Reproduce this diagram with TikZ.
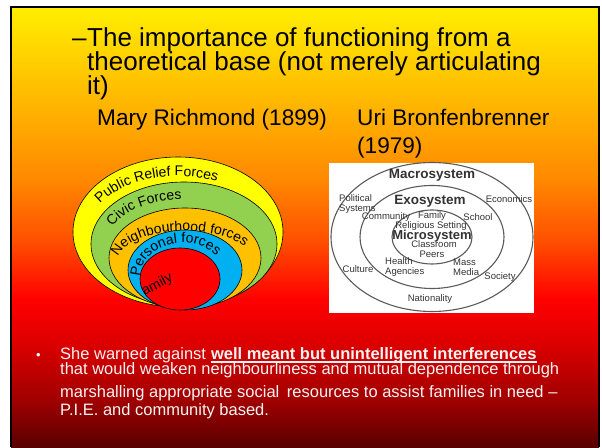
\documentclass[tikz,border=0pt]{standalone}
\usepackage{fontspec}
\setmainfont{Liberation Sans}
\usetikzlibrary{calc,decorations.text}
\definecolor{bgA}{HTML}{FFEE00}
\definecolor{bgAB}{HTML}{FFB800}
\definecolor{bgB}{HTML}{FF8800}
\definecolor{bgBC}{HTML}{FF5000}
\definecolor{bgC}{HTML}{FF0000}
\definecolor{bgD}{HTML}{E00000}
\definecolor{bgE}{HTML}{A00000}
\definecolor{bgF}{HTML}{580000}
\definecolor{ringYellow}{HTML}{FFFF00}
\definecolor{ringGreen}{HTML}{92D050}
\definecolor{ringOrange}{HTML}{FFC000}
\definecolor{ringBlue}{HTML}{00B0F0}
\definecolor{ringRed}{HTML}{FF0000}
\definecolor{orbitGray}{HTML}{5A5A5A}
\definecolor{labelGray}{HTML}{333333}
\definecolor{bodyWhite}{HTML}{F4F4F4}
\pgfdeclareverticalshading{slidebg}{100bp}{color(0bp)=(bgF); color(25bp)=(bgF); color(30.3bp)=(bgE); color(37.2bp)=(bgD); color(41.7bp)=(bgC); color(48.5bp)=(bgBC); color(55.3bp)=(bgB); color(64.4bp)=(bgAB); color(75bp)=(bgA); color(100bp)=(bgA)}
\newcommand{\ringfont}{\fontsize{14}{14}\selectfont}

\begin{document}
\begin{tikzpicture}[x=1pt,y=1pt,
  ring/.style={draw=black,line width=0.6pt},
  ringtext/.style={decorate,decoration={text along path,text align=left,text={|\ringfont|#1}}},
  headline/.style={anchor=base west,inner sep=0pt,font=\fontsize{26}{26}\selectfont},
  author/.style={anchor=base west,inner sep=0pt,font=\fontsize{22.6}{24}\selectfont},
  body/.style={anchor=base west,inner sep=0pt,text=bodyWhite,font=\fontsize{16.5}{18}\selectfont},
  sysorbit/.style={draw=orbitGray,line width=1.1pt},
  sysname/.style={inner sep=0pt,text=labelGray,font=\bfseries\fontsize{13.5}{14}\selectfont},
  syslabel/.style={inner sep=0pt,text=labelGray,align=left,font=\fontsize{9.5}{10}\selectfont}]
\useasboundingbox (0,0) rectangle (602,447);
% slide background
\fill[white] (0,0) rectangle (602,447);
\shade[shading=slidebg] (11,0) rectangle (599,440);
\draw[line width=2pt] (11,0) -- (11,440) -- (599,440) -- (599,0);
% heading
\node[headline] (dash) at (72,400) {–};
\node[headline] (headA) at (87,400) {The importance of functioning from a};
\node[headline] (headB) at (87,376) {theoretical base (not merely articulating};
\node[headline] (headC) at (87,352) {it)};
\node[author] (richmond) at (97,321) {Mary Richmond (1899)};
\node[author] (bronfen) at (357,321) {Uri Bronfenbrenner};
\node[author] (bronyear) at (357,293) {(1979)};
% Richmond's rings
\coordinate (yellowC) at (178,215);
\coordinate (greenC) at (184,203);
\coordinate (orangeC) at (185,189);
\coordinate (blueC) at (185,177);
\coordinate (redC) at (180,168);
\draw[ring,fill=ringYellow] (yellowC) ellipse [x radius=105,y radius=75];
\begin{scope}
\clip (yellowC) ellipse [x radius=105,y radius=75];
\path[ringtext={Public Relief Forces}] ($(yellowC)+(150:90 and 56)$) arc[start angle=150,end angle=10,x radius=90,y radius=56];
\end{scope}
\draw[ring,fill=ringGreen] (greenC) ellipse [x radius=93,y radius=62];
\begin{scope}
\clip (greenC) ellipse [x radius=93,y radius=62];
\path[ringtext={Civic Forces}] ($(greenC)+(158:77 and 45)$) arc[start angle=158,end angle=10,x radius=77,y radius=45];
\end{scope}
\draw[ring,fill=ringOrange] (orangeC) ellipse [x radius=76,y radius=50];
\begin{scope}
\clip (orangeC) ellipse [x radius=76,y radius=50];
\path[ringtext={Neighbourhood forces}] ($(orangeC)+(0,-4)+(170:68 and 31)$) arc[start angle=170,end angle=-10,x radius=68,y radius=31];
\end{scope}
\draw[ring,fill=ringBlue] (blueC) ellipse [x radius=57,y radius=40];
\begin{scope}
\clip (blueC) ellipse [x radius=57,y radius=40];
\path[ringtext={Personal forces}] ($(blueC)+(-2,-7)+(180:43 and 34)$) arc[start angle=180,end angle=0,x radius=43,y radius=34];
\end{scope}
\draw[ring,fill=ringRed] (redC) ellipse [x radius=40,y radius=31];
\begin{scope}
\clip (redC) ellipse [x radius=40,y radius=31];
\node[anchor=base west,inner sep=0pt,rotate=28,font=\ringfont] (family) at (137,147) {Family};
\end{scope}
% Bronfenbrenner's systems
\fill[white] (329,134) rectangle (534,284);
\coordinate (bronC) at (432,210);
\draw[sysorbit] (bronC) ellipse [x radius=101,y radius=74.5];
\draw[sysorbit] (bronC) ellipse [x radius=72,y radius=51.5];
\draw[sysorbit] (bronC) ellipse [x radius=40,y radius=27];
\node[sysname] (macro) at (432,272) {Macrosystem};
\node[sysname] (exo) at (430,246) {Exosystem};
\node[sysname,font=\bfseries\fontsize{13}{14}\selectfont] (micro) at (432,211) {Microsystem};
\node[syslabel,anchor=west] (political) at (339,243) {Political\\Systems};
\node[syslabel] (economics) at (509,248) {Economics};
\node[syslabel] (community) at (386,230) {Community};
\node[syslabel] (familyS) at (432,231) {Family};
\node[syslabel] (school) at (478,230) {School};
\node[syslabel] (religious) at (431,221) {Religious Setting};
\node[syslabel] (classroom) at (434,203) {Classroom};
\node[syslabel] (peers) at (432,193) {Peers};
\node[syslabel,anchor=west] (health) at (385,179.5) {Health\\Agencies};
\node[syslabel,anchor=west] (media) at (453,179.5) {Mass\\Media};
\node[syslabel] (culture) at (358,178) {Culture};
\node[syslabel] (society) at (500,170) {Society};
\node[syslabel] (nation) at (430,148) {Nationality};
% bullet text
\node[body,font=\fontsize{13}{13}\selectfont] (bullet) at (36,87) {•};
\node[body] (warnA) at (60,87) {She warned against};
\node[body,font=\bfseries\fontsize{16.5}{18}\selectfont] (warnB) at ([xshift=4.6pt]warnA.base east) {well meant but unintelligent interferences};
\draw[bodyWhite,line width=1.2pt] ([yshift=-2pt]warnB.base west) -- ([yshift=-2pt]warnB.base east);
\node[body] (warnC) at (60,72) {that would weaken neighbourliness and mutual dependence through};
\node[body] (warnD) at (60,49) {marshalling appropriate social\hspace{3pt} resources to assist families in need –};
\node[body] (warnE) at (60,31) {P.I.E. and community based.};
\end{tikzpicture}
\end{document}
